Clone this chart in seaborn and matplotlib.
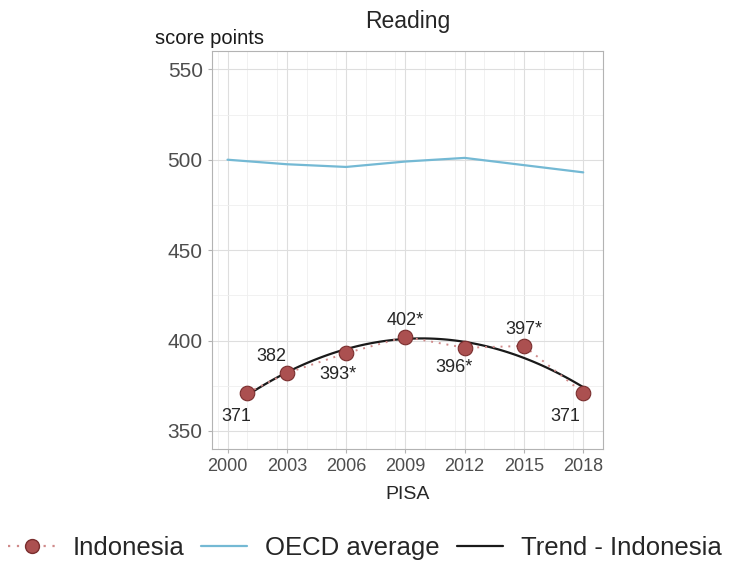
import numpy as np
import pandas as pd
import matplotlib
matplotlib.use('Agg')
import matplotlib.pyplot as plt
from matplotlib.lines import Line2D
from matplotlib.ticker import MultipleLocator
import seaborn as sns

# data
indo_years = [2001, 2003, 2006, 2009, 2012, 2015, 2018]
indo_scores = [371, 382, 393, 402, 396, 397, 371]
indo_labels = ['371', '382', '393*', '402*', '396*', '397*', '371']
oecd_years = [2000, 2003, 2006, 2009, 2012, 2015, 2018]
oecd_scores = [500, 497.5, 496, 499, 501, 497, 493]
year_ticks = [2000, 2003, 2006, 2009, 2012, 2015, 2018]
score_ticks = [350, 400, 450, 500, 550]

indo = pd.DataFrame({'year': indo_years, 'score': indo_scores})
oecd = pd.DataFrame({'year': oecd_years, 'score': oecd_scores})

sns.set_style('white')
plt.rcParams['font.family'] = ['Liberation Sans', 'DejaVu Sans']

red = '#ab5050'
blue = '#74b9d4'
dots = (0, (1, 3))

fig = plt.figure(figsize=(7.3, 5.63), dpi=100)
ax = fig.add_axes([0.290, 0.2025, 0.536, 0.7065])

sns.lineplot(data=oecd, x='year', y='score', color=blue, linewidth=1.6, ax=ax)
sns.regplot(data=indo, x='year', y='score', order=2, ci=None, scatter=False,
            line_kws={'color': '#1a1a1a', 'linewidth': 1.6}, ax=ax)
sns.lineplot(data=indo, x='year', y='score', color='#d08a8a', linestyle=dots,
             linewidth=1.4, ax=ax)
sns.scatterplot(data=indo, x='year', y='score', color=red, edgecolor='#7a2e2e',
                s=110, linewidth=0.8, zorder=5, ax=ax)

# value labels: (dx, dy) offsets in points
offsets = [(-8, -17), (-11, 12), (-6, -15), (0, 12), (-8, -14), (0, 12), (-13, -17)]
for x, y, lab, (dx, dy) in zip(indo_years, indo_scores, indo_labels, offsets):
    ax.annotate(lab, (x, y), xytext=(dx, dy), textcoords='offset points',
                ha='center', va='center', fontsize=13, color='#262626')

ax.set_xlim(1999.2, 2019.0)
ax.set_ylim(340, 560)
ax.set_xticks(year_ticks)
ax.set_yticks(score_ticks)
ax.xaxis.set_minor_locator(MultipleLocator(1.5))
ax.yaxis.set_minor_locator(MultipleLocator(25))
ax.grid(which='major', color='#dedede', linewidth=0.8)
ax.grid(which='minor', color='#efefef', linewidth=0.6)
ax.set_axisbelow(True)
for s in ax.spines.values():
    s.set_color('#b3b3b3')
    s.set_linewidth(0.8)
ax.tick_params(axis='both', which='major', labelcolor='#4d4d4d',
               length=3, color='#b3b3b3', left=True, bottom=True)
ax.tick_params(axis='x', which='major', labelsize=13)
ax.tick_params(axis='y', which='major', labelsize=15)
ax.tick_params(which='minor', length=0)

ax.set_xlabel('PISA', fontsize=14, color='#262626', labelpad=8)
ax.set_ylabel('')
ax.set_title('Reading', fontsize=16.5, color='#262626', pad=17)
fig.text(0.212, 0.922, 'score points', fontsize=14.5, color='#1a1a1a')

handles = [
    Line2D([0], [0], color='#d08a8a', linestyle=dots, linewidth=1.6, marker='o',
           markersize=10, markerfacecolor=red, markeredgecolor='#7a2e2e'),
    Line2D([0], [0], color=blue, linewidth=1.6),
    Line2D([0], [0], color='#1a1a1a', linewidth=1.6),
]
fig.legend(handles, ['Indonesia', 'OECD average', 'Trend - Indonesia'],
           loc='center', bbox_to_anchor=(0.5, 0.027), ncol=3, frameon=False,
           fontsize=18.5, handlelength=1.8, columnspacing=0.65, handletextpad=0.7,
           borderpad=0.2)

fig.savefig('out.png', dpi=100)
